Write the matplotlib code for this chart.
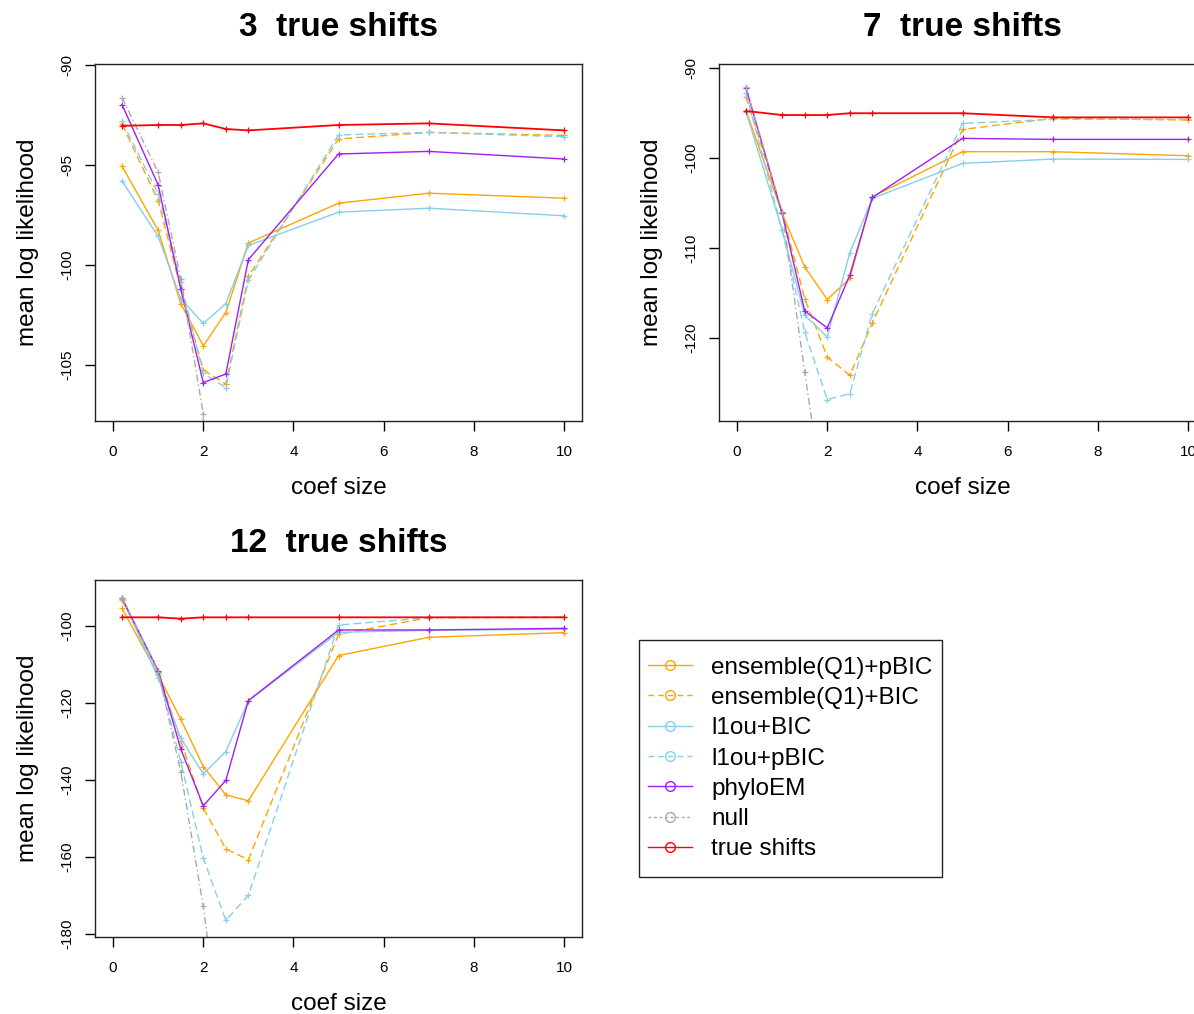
import matplotlib
matplotlib.use("Agg")
import matplotlib.pyplot as plt
from matplotlib.lines import Line2D
from matplotlib.patches import Rectangle

plt.rcParams["font.family"] = ["Liberation Sans", "DejaVu Sans"]

coef_size = [0.2, 1, 1.5, 2, 2.5, 3, 5, 7, 10]

methods = ["ensemble(Q1)+pBIC", "ensemble(Q1)+BIC", "l1ou+BIC", "l1ou+pBIC",
           "phyloEM", "null", "true shifts"]
colors = ["#FFA500", "#FFA500", "#87CEEB", "#87CEEB", "#A020F0", "#A9A9A9", "#FF0000"]
styles = ["-", (0, (5.5, 3)), "-", (0, (5.5, 3)), "-", (0, (5, 2.2, 1, 2.2)), "-"]
legend_styles = ["-", (0, (4, 3)), "-", (0, (4, 3)), "-", (0, (2, 2)), "-"]

# mean log likelihood, 3 true shifts
ens_pbic_3 = [-95.07, -98.27, -101.93, -104.04, -102.38, -98.9, -96.91, -96.41, -96.66]
ens_bic_3 = [-92.96, -96.78, -101.18, -105.25, -105.95, -100.56, -93.7, -93.37, -93.52]
l1ou_bic_3 = [-95.81, -98.57, -101.68, -102.92, -101.93, -99.02, -97.36, -97.16, -97.54]
l1ou_pbic_3 = [-92.82, -96.45, -100.85, -105.42, -106.13, -100.76, -93.5, -93.37, -93.59]
phyloem_3 = [-91.99, -96.0, -101.18, -105.88, -105.45, -99.73, -94.45, -94.32, -94.7]
null_3 = [-91.63, -95.37, -100.68, -107.45, -300.0, -310.0, -320.0, -320.0, -320.0]
true_3 = [-93.04, -93.0, -93.0, -92.92, -93.2, -93.27, -93.0, -92.92, -93.27]

# mean log likelihood, 7 true shifts
ens_pbic_7 = [-94.72, -106.15, -112.1, -115.73, -113.39, -104.3, -99.28, -99.28, -99.73]
ens_bic_7 = [-93.16, -105.97, -115.62, -122.12, -124.16, -118.33, -96.8, -95.57, -95.76]
l1ou_bic_7 = [-94.83, -108.0, -117.48, -119.89, -110.53, -104.48, -100.58, -100.1, -100.14]
l1ou_pbic_7 = [-92.79, -108.0, -119.33, -126.87, -126.2, -117.29, -96.13, -95.68, -95.68]
phyloem_7 = [-92.23, -106.15, -117.0, -118.89, -113.02, -104.37, -97.8, -97.91, -97.91]
null_7 = [-92.1, -105.97, -123.8, -141.0, -160.0, -165.0, -170.0, -170.0, -170.0]
true_7 = [-94.75, -95.2, -95.2, -95.2, -95.0, -95.0, -95.0, -95.46, -95.46]

# mean log likelihood, 12 true shifts
ens_pbic_12 = [-95.41, -112.73, -124.24, -136.54, -143.9, -145.45, -107.7, -102.94, -101.73]
ens_bic_12 = [-93.25, -111.86, -129.78, -147.36, -157.92, -160.78, -102.16, -97.84, -97.75]
l1ou_bic_12 = [-92.81, -113.42, -129.18, -138.44, -132.64, -119.48, -101.65, -101.13, -100.87]
l1ou_pbic_12 = [-92.99, -112.29, -135.24, -160.35, -176.54, -170.04, -99.74, -97.84, -97.75]
phyloem_12 = [-92.81, -111.6, -131.95, -146.75, -140.17, -119.39, -101.04, -101.04, -100.61]
null_12 = [-92.64, -111.86, -137.84, -172.9, -217.0, -230.0, -240.0, -240.0, -240.0]
true_12 = [-97.75, -97.75, -98.1, -97.75, -97.75, -97.75, -97.75, -97.75, -97.75]


def draw_panel(ax, title, series, ylim, yticks):
    for vals, col, ls in zip(series, colors, styles):
        lw = 1.3 if col == "#FF0000" else 1.0
        ax.plot(coef_size, vals, color=col, linestyle=ls, linewidth=lw,
                marker="+", markersize=4, markeredgewidth=0.9)
    ax.set_xlim(-0.4, 10.4)
    ax.set_ylim(*ylim)
    ax.set_xticks([0, 2, 4, 6, 8, 10])
    ax.set_yticks(yticks)
    ax.set_yticklabels([str(t) for t in yticks], rotation=90, va="center")
    ax.tick_params(direction="out", length=7, width=1, labelsize=11)
    ax.tick_params(axis="x", pad=10)
    ax.tick_params(axis="y", pad=8)
    for sp in ax.spines.values():
        sp.set_linewidth(1.0)
        sp.set_color("#222222")
    ax.set_title(title, fontsize=24, fontweight="bold", pad=20)
    ax.set_xlabel("coef size", fontsize=17.5)
    ax.set_ylabel("mean log likelihood", fontsize=17.5)
    ax.xaxis.set_label_coords(0.5, -0.158)
    ax.yaxis.set_label_coords(-0.115, 0.5)


fig = plt.figure(figsize=(11.94, 10.14), dpi=100)

ax1 = fig.add_axes([0.0796, 0.5848, 0.4079, 0.3521])
draw_panel(ax1, "3  true shifts",
           [ens_pbic_3, ens_bic_3, l1ou_bic_3, l1ou_pbic_3, phyloem_3, null_3, true_3],
           (-107.8, -89.95), [-90, -95, -100, -105])

ax2 = fig.add_axes([0.6022, 0.5848, 0.4079, 0.3521])
draw_panel(ax2, "7  true shifts",
           [ens_pbic_7, ens_bic_7, l1ou_bic_7, l1ou_pbic_7, phyloem_7, null_7, true_7],
           (-129.25, -89.52), [-90, -100, -110, -120])

ax3 = fig.add_axes([0.0796, 0.0759, 0.4079, 0.3521])
draw_panel(ax3, "12  true shifts",
           [ens_pbic_12, ens_bic_12, l1ou_bic_12, l1ou_pbic_12, phyloem_12, null_12, true_12],
           (-180.87, -88.05), [-100, -120, -140, -160, -180])

# legend with open circles, framed box
handles = [Line2D([], [], color=c, linestyle=ls, linewidth=1.0, marker="o",
                  markersize=7, markerfacecolor="none", markeredgewidth=1.0)
           for c, ls in zip(colors, legend_styles)]
fig.legend(handles, methods, loc="center",
           bbox_to_anchor=((639 + 942) / 2 / 1194, 1 - (640 + 877) / 2 / 1014),
           frameon=False, fontsize=17.5, handlelength=1.8, handletextpad=0.8,
           labelspacing=0.34, borderpad=0)
fig.patches.append(Rectangle((639 / 1194, 1 - 877 / 1014), 303 / 1194, 237 / 1014,
                             transform=fig.transFigure, fill=False,
                             edgecolor="#222222", linewidth=1.0))

fig.savefig("out.png", dpi=100)
